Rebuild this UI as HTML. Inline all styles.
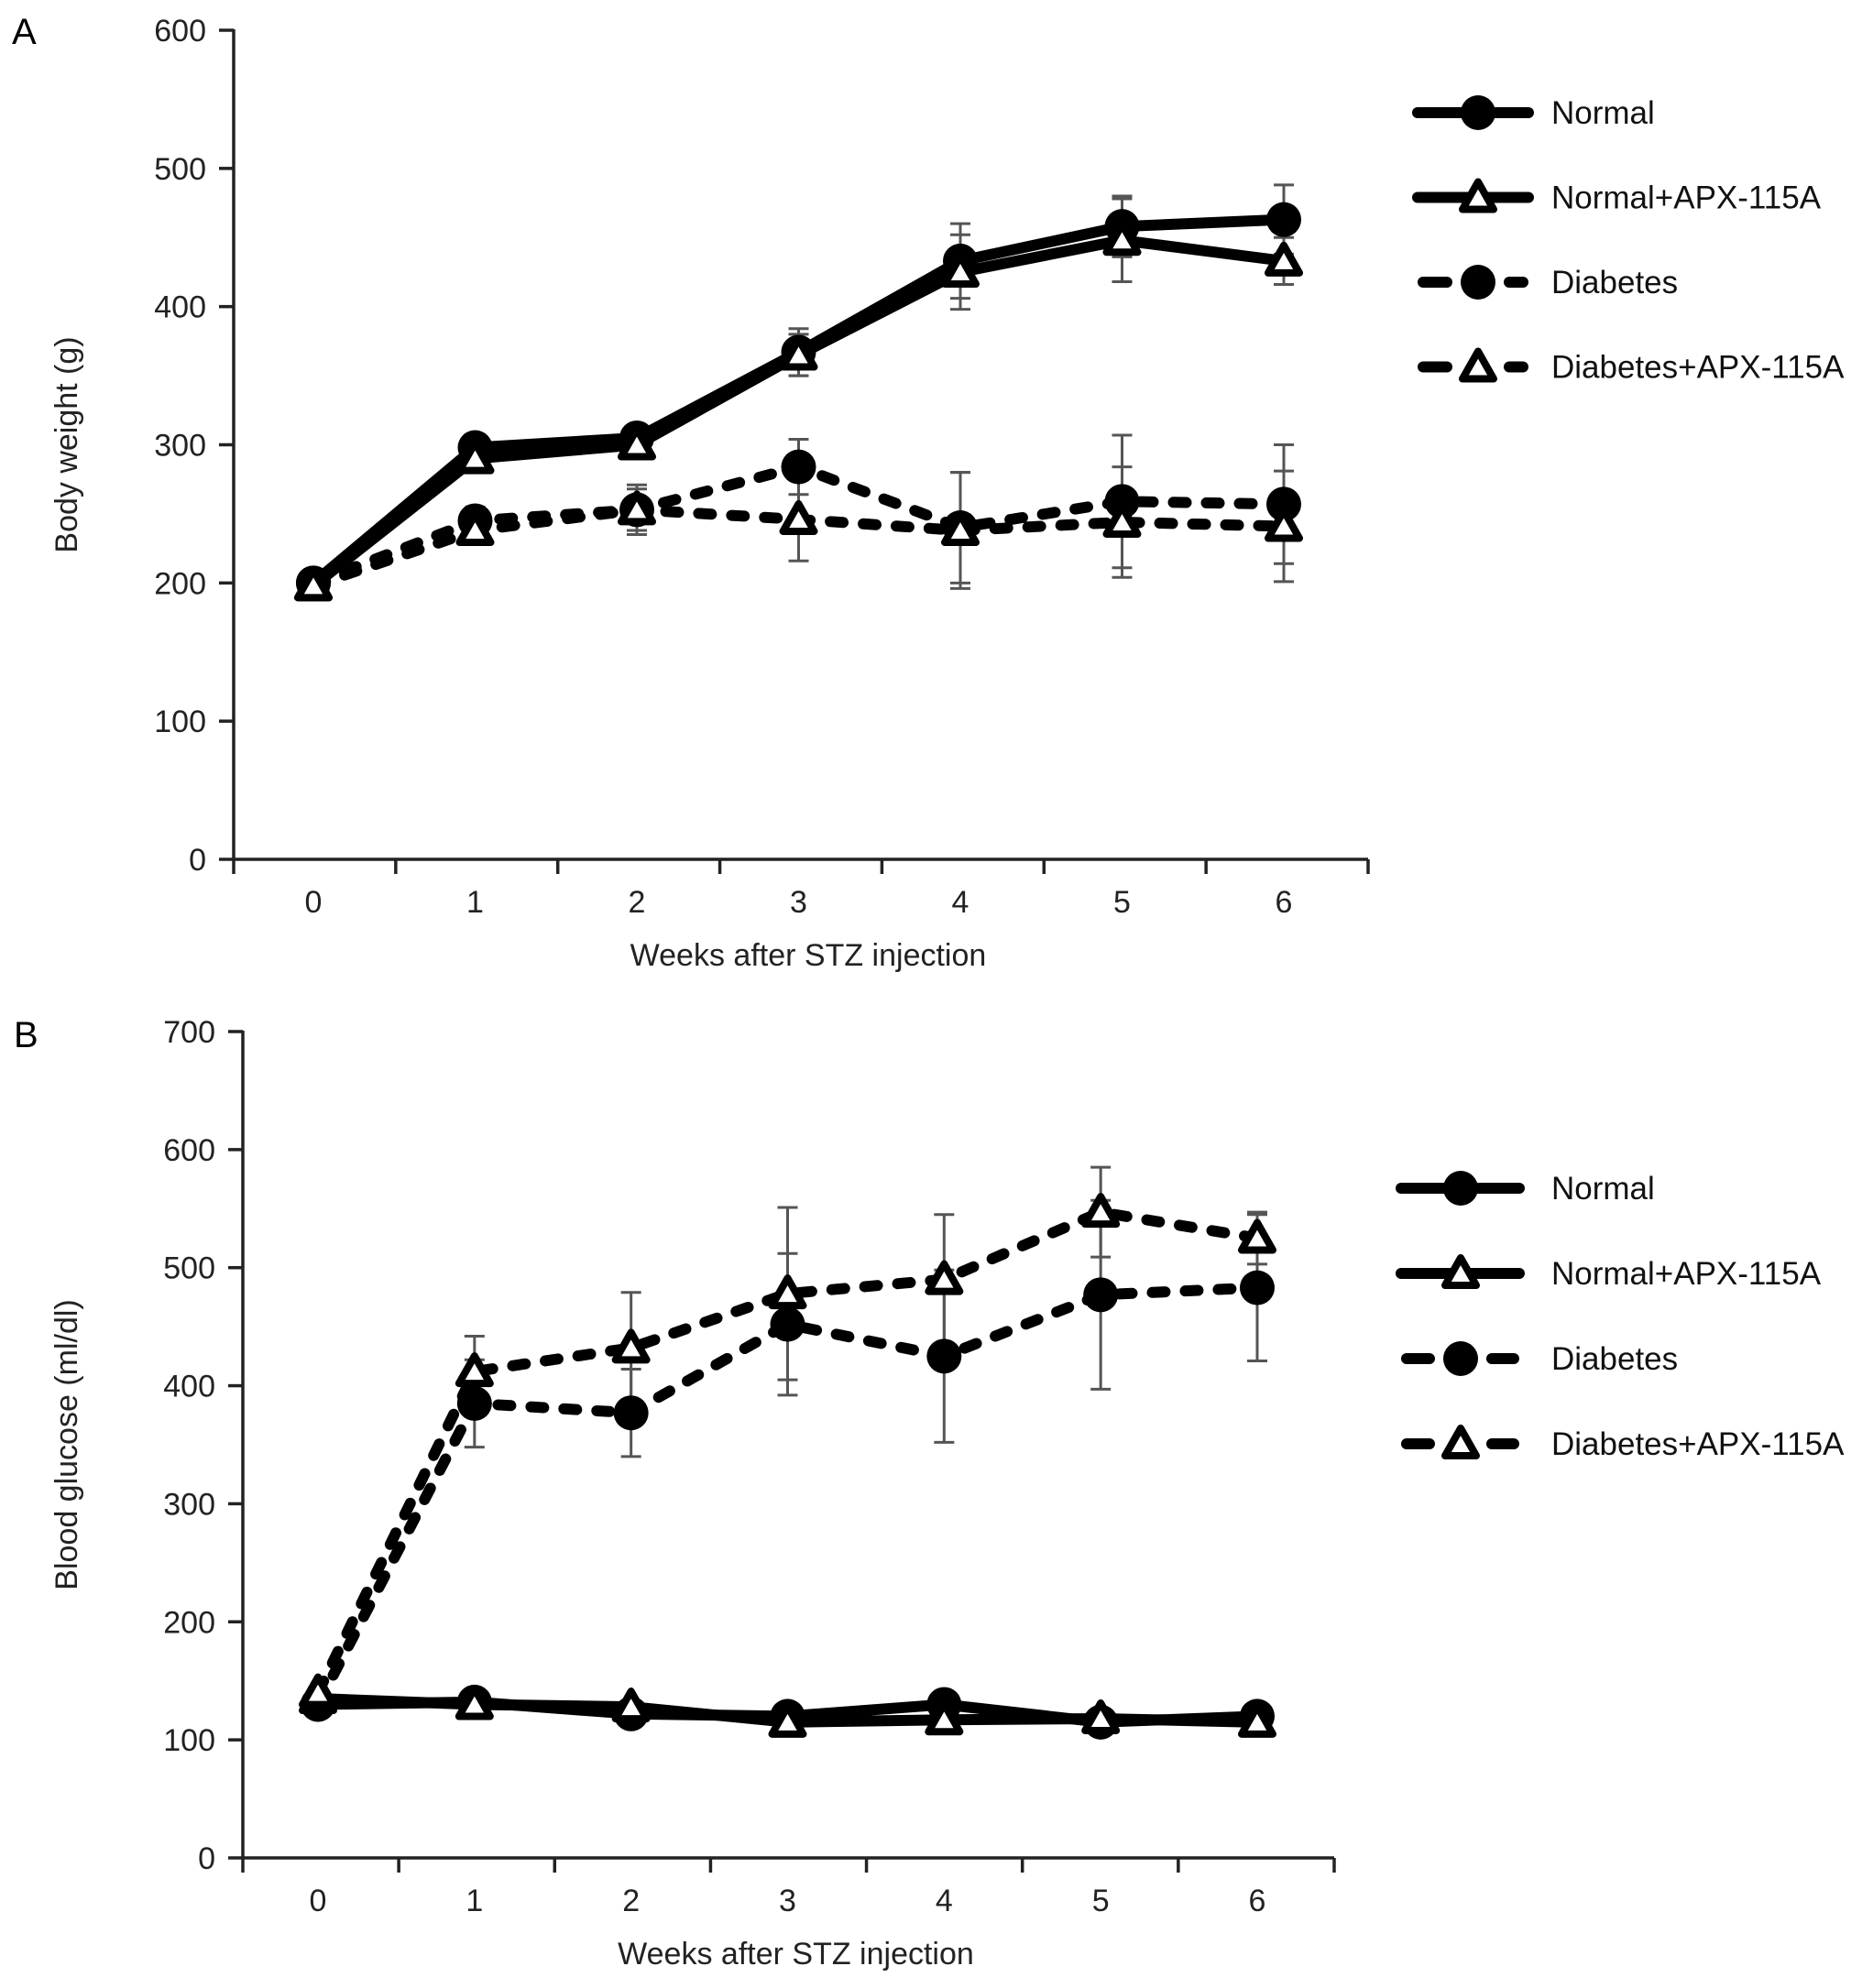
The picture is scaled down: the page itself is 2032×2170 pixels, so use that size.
<!DOCTYPE html>
<html><head><meta charset="utf-8"><style>
html,body{margin:0;padding:0;background:#fff;}
svg{display:block;font-family:"Liberation Sans",Arial,sans-serif;}
</style></head><body>
<svg id="fig" width="2032" height="2170" viewBox="0 0 2032 2170" xmlns="http://www.w3.org/2000/svg">
<text x="13" y="48" font-size="40">A</text>
<text x="15" y="1143" font-size="40">B</text>
</svg>
<script>
const weeks = [0,1,2,3,4,5,6];
const seriesNames = ["Normal","Normal+APX-115A","Diabetes","Diabetes+APX-115A"];
const aTicks = [0,100,200,300,400,500,600];
const aNormal = [200,298,305,367,433,458,463];
const aNormalErr = [0,8,8,17,27,22,25];
const aNormalApx = [198,290,300,365,425,448,433];
const aNormalApxErr = [0,8,8,15,27,30,17];
const aDiab = [200,245,253,284,240,259,257];
const aDiabErr = [0,10,18,20,40,48,43];
const aDiabApx = [198,238,253,246,238,244,241];
const aDiabApxErr = [0,8,15,30,42,40,40];
const bTicks = [0,100,200,300,400,500,600,700];
const bNormal = [130,132,122,120,130,115,120];
const bNormalErr = [0,0,0,0,0,0,0];
const bNormalApx = [135,130,128,115,117,118,115];
const bNormalApxErr = [0,0,0,0,0,0,0];
const bDiab = [130,385,377,452,425,477,483];
const bDiabErr = [0,37,37,60,73,80,62];
const bDiabApx = [140,412,432,478,490,547,525];
const bDiabApxErr = [0,30,47,73,55,38,22];

const NS="http://www.w3.org/2000/svg";
const svg=document.getElementById('fig');
function mk(tag,attrs,parent){const e=document.createElementNS(NS,tag);for(const k in attrs)e.setAttribute(k,attrs[k]);(parent||svg).appendChild(e);return e;}

function panel(cfg){
  const g=mk('g',{});
  
  
  const X=w=>cfg.x0+(cfg.x6-cfg.x0)*w/6;
  const Y=v=>cfg.yb-(cfg.yb-cfg.yt)*v/cfg.ymax;
  const ax=mk('g',{stroke:'#222','stroke-width':3.5,fill:'none'},g);
  
  
  mk('line',{x1:cfg.ax,y1:Y(cfg.ymax)-1,x2:cfg.ax,y2:cfg.yb},ax);
  mk('line',{x1:cfg.ax,y1:cfg.yb,x2:cfg.axEnd,y2:cfg.yb},ax);
  cfg.ticks.forEach(t=>{
    mk('line',{x1:cfg.ax-16,y1:Y(t),x2:cfg.ax,y2:Y(t)},ax);
    const tx=mk('text',{x:cfg.ax-30,y:Y(t)+12,'font-size':34,'text-anchor':'end',fill:'#222',stroke:'none'},g);
    
    
    tx.textContent=t;
  });
  for(let i=0;i<=7;i++){
    const xx=cfg.ax+(cfg.axEnd-cfg.ax)*i/7;
    mk('line',{x1:xx,y1:cfg.yb,x2:xx,y2:cfg.yb+16},ax);
  }
  weeks.forEach(w=>{
    const tx=mk('text',{x:X(w),y:cfg.yb+58,'font-size':34,'text-anchor':'middle',fill:'#222'},g);
    
    
    tx.textContent=w;
  });
  const xt=mk('text',{x:(cfg.ax+cfg.axEnd)/2+8,y:cfg.yb+116,'font-size':34,'text-anchor':'middle',fill:'#222'},g);
  
  
  xt.textContent='Weeks after STZ injection';
  const yt=mk('text',{x:0,y:0,'font-size':34,'text-anchor':'middle',fill:'#222',transform:`translate(84 ${(cfg.yt+cfg.yb)/2}) rotate(-90)`},g);
  
  
  yt.textContent=cfg.ytitle;
  const ser=[
    {v:cfg.s[0],e:cfg.e[0],dash:false,m:'circle',n:'normal'},
    {v:cfg.s[1],e:cfg.e[1],dash:false,m:'tri',n:'normal-apx'},
    {v:cfg.s[2],e:cfg.e[2],dash:true,m:'circle',n:'diabetes'},
    {v:cfg.s[3],e:cfg.e[3],dash:true,m:'tri',n:'diabetes-apx'}];
  ser.forEach(s=>{
    const eg=mk('g',{stroke:'#555','stroke-width':3},g);
    
    
    s.v.forEach((v,i)=>{ if(!s.e[i])return;
      const x=X(weeks[i]);
      mk('line',{x1:x,y1:Y(v+s.e[i]),x2:x,y2:Y(v-s.e[i])},eg);
      mk('line',{x1:x-11,y1:Y(v+s.e[i]),x2:x+11,y2:Y(v+s.e[i])},eg);
      mk('line',{x1:x-11,y1:Y(v-s.e[i]),x2:x+11,y2:Y(v-s.e[i])},eg);
    });
  });
  ser.forEach(s=>{
    const pts=s.v.map((v,i)=>X(weeks[i])+','+Y(v)).join(' ');
    const pl=mk('polyline',{points:pts,fill:'none',stroke:'#000','stroke-width':12,'stroke-linejoin':'round','stroke-linecap':s.dash?'round':'butt'},g);
    if(s.dash)pl.setAttribute('stroke-dasharray','14 22');
    
    
    s.v.forEach((v,i)=>{
      const m=marker(g,s.m,X(weeks[i]),Y(v));
      
      
    });
  });
  seriesNames.forEach((nm,i)=>{
    const y=cfg.lgY+i*cfg.lgStep;
    const lg=mk('g',{},svg);
    
    
    const dash=i>=2;
    if(dash){
      mk('line',{x1:cfg.lgX1+6,y1:y,x2:cfg.lgM-34,y2:y,stroke:'#000','stroke-width':12,'stroke-linecap':'round'},lg);
      mk('line',{x1:cfg.lgM+34,y1:y,x2:cfg.lgX2-6,y2:y,stroke:'#000','stroke-width':12,'stroke-linecap':'round'},lg);
    } else {
      mk('line',{x1:cfg.lgX1,y1:y,x2:cfg.lgX2,y2:y,stroke:'#000','stroke-width':12,'stroke-linecap':'round'},lg);
    }
    marker(lg,i%2===0?'circle':'tri',cfg.lgM,y);
    const t=mk('text',{x:1693,y:y+12,'font-size':35,fill:'#111'},lg);
    t.textContent=nm;
  });
}
function marker(p,type,x,y){
  if(type==='circle') return mk('circle',{cx:x,cy:y,r:19,fill:'#000'},p);
  return mk('polygon',{points:`${x},${y-17} ${x+17},${y+13} ${x-17},${y+13}`,fill:'#fff',stroke:'#000','stroke-width':8,'stroke-linejoin':'round'},p);
}
panel({id:'body-weight',ax:255,axEnd:1493,x0:342,x6:1401,yt:33,yb:938,ymax:600,ticks:aTicks,ytitle:'Body weight (g)',
  s:[aNormal,aNormalApx,aDiab,aDiabApx],e:[aNormalErr,aNormalApxErr,aDiabErr,aDiabApxErr],
  lgX1:1547,lgX2:1668,lgM:1613,lgY:123,lgStep:92.5});
panel({id:'blood-glucose',ax:265,axEnd:1456,x0:347,x6:1372,yt:1126,yb:2028,ymax:700,ticks:bTicks,ytitle:'Blood glucose (ml/dl)',
  s:[bNormal,bNormalApx,bDiab,bDiabApx],e:[bNormalErr,bNormalApxErr,bDiabErr,bDiabApxErr],
  lgX1:1529,lgX2:1658,lgM:1594,lgY:1297,lgStep:93});
</script>
</body></html>
